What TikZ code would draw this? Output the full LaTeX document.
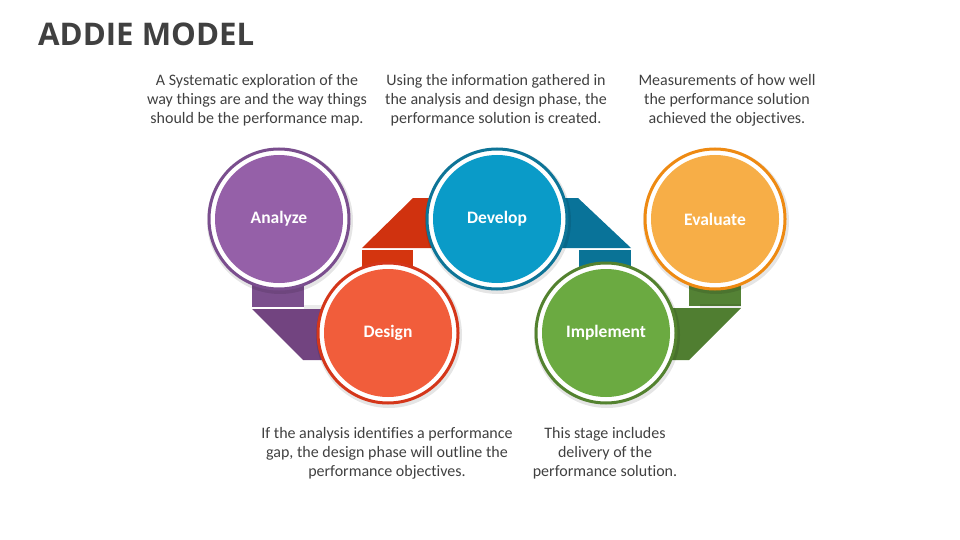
\documentclass[tikz,border=0pt]{standalone}
\usepackage{fontspec}
\setmainfont{Carlito}[Ligatures=NoCommon]
\newfontfamily\titlefont{Open Sans}
\usetikzlibrary{positioning}
\definecolor{txt}{HTML}{404040}
\definecolor{anaF}{HTML}{9560A8}\definecolor{anaR}{HTML}{7A4E8E}
\definecolor{desF}{HTML}{F15D3B}\definecolor{desR}{HTML}{D4361A}
\definecolor{devF}{HTML}{0A9BC8}\definecolor{devR}{HTML}{0D7497}
\definecolor{impF}{HTML}{6BAA41}\definecolor{impR}{HTML}{53822F}
\definecolor{evaF}{HTML}{F7AE47}\definecolor{evaR}{HTML}{EE8A12}
\definecolor{purS}{HTML}{7B4F8D}\definecolor{purB}{HTML}{724480}
\definecolor{redS}{HTML}{D4350F}\definecolor{redB}{HTML}{D0320F}
\definecolor{bluS}{HTML}{0A7396}\definecolor{bluB}{HTML}{097399}
\definecolor{grnS}{HTML}{548235}\definecolor{grnB}{HTML}{507E31}
\tikzset{
  ring/.style={circle, draw=#1, line width=3pt, fill=white, minimum size=140pt, inner sep=0pt},
  disc/.style={circle, fill=#1, minimum size=128pt, inner sep=0pt, text=white,
     font=\fontsize{17.5}{19}\selectfont\bfseries},
  desc/.style={align=center, text=txt, font=\fontsize{16}{19}\selectfont, inner sep=0pt},
  halo/.style={circle, fill=black, opacity=0.10, minimum size=146pt, inner sep=0pt}
}
\begin{document}
\begin{tikzpicture}[x=1pt,y=-1pt]
\useasboundingbox (0,0) rectangle (960,540);
\node[anchor=base west, text=txt, font=\titlefont\fontsize{31.2}{34}\selectfont\bfseries, inner sep=0pt] (title) at (38,46) {ADDIE MODEL};

% ribbons
\fill[purS] (252,270) rectangle (304,307);
\fill[purB] (252,309) -- (345,309) -- (345,360) -- (303,360) -- cycle;
\fill[redS] (362,250) rectangle (413,285);
\fill[redB] (362,248) -- (413,198) -- (470,198) -- (470,248) -- cycle;
\fill[bluB] (525,198) -- (578,198) -- (631,248) -- (525,248) -- cycle;
\fill[bluS] (579,250) rectangle (631,285);
\fill[grnS] (689,270) rectangle (741,306);
\fill[grnB] (640,308) -- (741,308) -- (689,360) -- (640,360) -- cycle;
\fill[black,opacity=0.08] (304,305) rectangle (345,309);
\fill[black,opacity=0.08] (700,304) rectangle (741,308);

% circles
\node[halo] (anaS) at (280,221) {};
\node[ring=anaR] (anaO) at (279,219) {};
\node[disc=anaF] (ana) at (279,219) {Analyze};
\node[halo] (desS) at (389,335) {};
\node[ring=desR] (desO) at (388,333) {};
\node[disc=desF] (des) at (388,333) {Design};
\node[halo] (devS) at (498,221) {};
\node[ring=devR] (devO) at (497,219) {};
\node[disc=devF] (dev) at (497,219) {Develop};
\node[halo] (impS) at (607,335) {};
\node[ring=impR] (impO) at (606,333) {};
\node[disc=impF] (imp) at (606,333) {Implement};
\node[halo] (evaS) at (716,221) {};
\node[ring=evaR] (evaO) at (715,219) {};
\node[disc=evaF] (eva) at (715,219) {Evaluate};

% descriptions (base anchor = last line)
\node[desc, anchor=base] (t1) at (257,124) {A Systematic exploration of the\\way things are and the way things\\should be the performance map.};
\node[desc, anchor=base] (t2) at (496,124) {Using the information gathered in\\the analysis and design phase, the\\performance solution is created.};
\node[desc, anchor=base] (t3) at (727,124) {Measurements of how well\\the performance solution\\achieved the objectives.};
\node[desc, anchor=base] (t4) at (387,476) {If the analysis identifies a performance\\gap, the design phase will outline the\\performance objectives.};
\node[desc, anchor=base] (t5) at (605,476) {This stage includes\\delivery of the\\performance solution.};
\end{tikzpicture}
\end{document}
